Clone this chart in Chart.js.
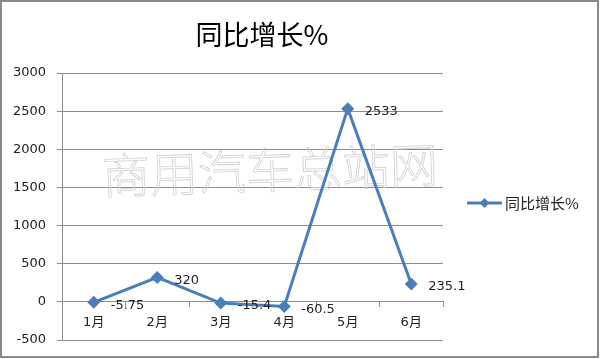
<!DOCTYPE html>
<html>
<head>
<meta charset="utf-8">
<script src="https://cdn.jsdelivr.net/npm/chart.js@4"></script>
<style>
  html, body { margin: 0; padding: 0; background: #fff; }
  #wrap { width: 600px; height: 359px; position: relative; }
</style>
</head>
<body>
<div id="wrap"><canvas id="myChart" width="600" height="359"></canvas></div>
<script>
// chart data
const months = ["1月", "2月", "3月", "4月", "5月", "6月"];
const growth = [-5.75, 320, -15.4, -60.5, 2533, 235.1];
const growthLabels = ["-5.75", "320", "-15.4", "-60.5", "2533", "235.1"];
const seriesName = "同比增长%";
const chartTitle = "同比增长%";
const watermark = "商用汽车总站网";

const blue = "#4a7ebb";
const grid = "#8c8c8c";
const font = "DejaVu Sans, Noto Sans CJK SC, sans-serif";

// frame, title, watermark, legend, value labels
const extras = {
    id: "extras",
    beforeDraw(chart) {
        const c = chart.ctx;
        c.save();
        c.fillStyle = "#fff";
        c.fillRect(0, 0, chart.width, chart.height);
        c.strokeStyle = "#8a8a8a";
        c.lineWidth = 2;
        c.strokeRect(1, 1, chart.width - 3, chart.height - 3);
        c.fillStyle = "#000";
        c.font = "27px Noto Sans CJK SC, sans-serif";
        c.textAlign = "center";
        c.textBaseline = "middle";
        c.fillText(chartTitle, 262, 35);
        c.restore();
    },
    beforeDatasetsDraw(chart) {
        const c = chart.ctx;
        const a = chart.chartArea;
        c.save();
        c.translate(a.left + 208, a.top + 97);
        c.rotate(-0.035);
        c.font = "300 48px Noto Sans CJK SC, sans-serif";
        c.textAlign = "center";
        c.textBaseline = "middle";
        c.strokeStyle = "#d0d0d0";
        c.lineWidth = 0.8;
        c.strokeText(watermark, 0, 0);
        c.restore();
    },
    afterDatasetsDraw(chart) {
        const c = chart.ctx;
        const meta = chart.getDatasetMeta(0);
        c.save();
        c.fillStyle = "#222";
        c.font = "13px " + font;
        c.textAlign = "left";
        c.textBaseline = "middle";
        meta.data.forEach((pt, i) => {
            c.fillText(growthLabels[i], pt.x + 17, pt.y + 3);
        });
        // legend
        const a = chart.chartArea;
        const ly = a.top + 130;
        const lx = a.right + 24;
        c.strokeStyle = blue;
        c.lineWidth = 3;
        c.beginPath();
        c.moveTo(lx, ly);
        c.lineTo(lx + 35, ly);
        c.stroke();
        c.fillStyle = blue;
        c.beginPath();
        c.moveTo(lx + 17.5, ly - 5);
        c.lineTo(lx + 22.5, ly);
        c.lineTo(lx + 17.5, ly + 5);
        c.lineTo(lx + 12.5, ly);
        c.closePath();
        c.fill();
        c.fillStyle = "#222";
        c.font = "15px Noto Sans CJK SC, sans-serif";
        c.fillText(seriesName, lx + 38, ly);
        c.restore();
    }
};

const ctx = document.getElementById("myChart").getContext("2d");
const chart = new Chart(ctx, {
    type: "line",
    data: {
        labels: months,
        datasets: [{
            label: seriesName,
            data: growth,
            borderColor: blue,
            backgroundColor: blue,
            borderWidth: 3,
            pointStyle: "rectRot",
            pointRadius: 6.5,
            pointBorderWidth: 0,
            pointHoverRadius: 6.5,
            tension: 0,
            fill: false
        }]
    },
    options: {
        responsive: false,
        animation: false,
        events: [],
        layout: { padding: { left: 0, top: 73, right: 157, bottom: 19 } },
        plugins: {
            legend: { display: false },
            title: { display: false },
            tooltip: { enabled: false }
        },
        scales: {
            x: {
                position: { y: 0 },
                offset: true,
                grid: {
                    offset: true,
                    drawOnChartArea: false,
                    drawTicks: true,
                    tickLength: 5,
                    color: grid
                },
                border: { color: grid, width: 1 },
                ticks: { color: "#222", padding: 8, font: { size: 13, family: font } }
            },
            y: {
                min: -500,
                max: 3000,
                ticks: {
                    stepSize: 500,
                    color: "#222",
                    padding: 11,
                    font: { size: 13, family: font },
                    callback: v => String(v)
                },
                grid: { color: grid, tickLength: 5 },
                border: { color: grid, width: 1 },
                afterFit(s) { s.width = 62; }
            }
        }
    },
    plugins: [extras]
});
</script>
</body>
</html>
